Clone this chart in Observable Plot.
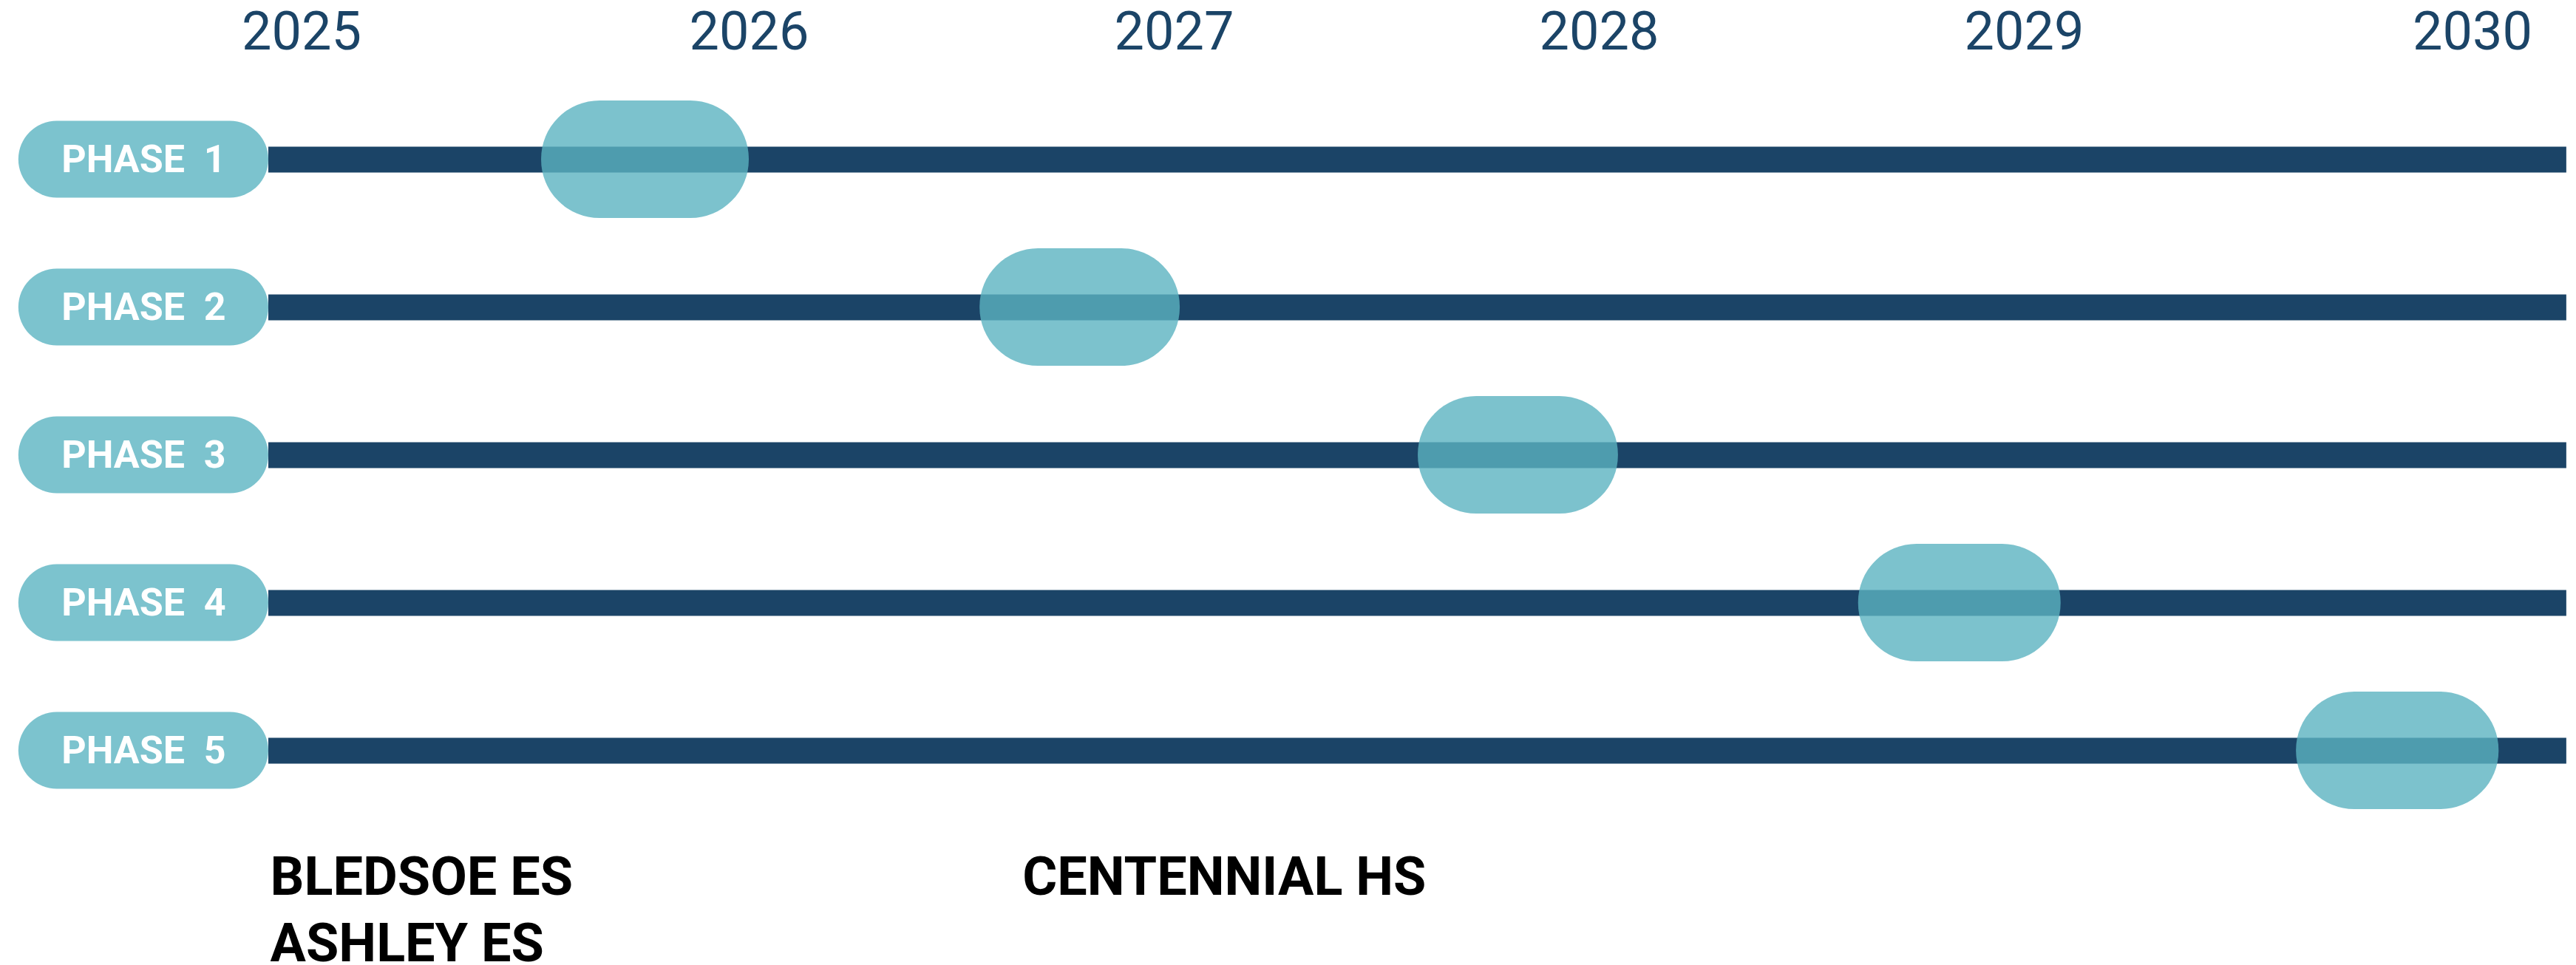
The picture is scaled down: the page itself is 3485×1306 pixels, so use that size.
<!DOCTYPE html>
<html>
<head>
<meta charset="utf-8">
<script src="https://cdn.jsdelivr.net/npm/d3@7"></script>
<script src="https://cdn.jsdelivr.net/npm/@observablehq/plot@0.6"></script>
<style>
html, body { margin: 0; padding: 0; background: #ffffff; }
#chart svg { display: block; }
</style>
</head>
<body>
<div id="chart"></div>
<script>
// ---- data ----
const years = [2025, 2026, 2027, 2028, 2029, 2030];
const phases = ["PHASE  1", "PHASE  2", "PHASE  3", "PHASE  4", "PHASE  5"];
const phaseRow = [1, 2, 3, 4, 5];
const milestoneStart = [2025.536, 2026.543, 2027.574, 2028.610, 2029.607];
const milestoneEnd = [2026.0, 2027.014, 2028.045, 2029.082, 2030.059];
const timelineStart = 2024.9265;
const timelineEnd = 2030.21;
const labelStart = 2024.368;
const schools = ["BLEDSOE ES", "ASHLEY ES", "CENTENNIAL HS"];
const schoolYear = [2024.93, 2024.93, 2026.643];
const schoolLine = [0, 1, 0];

// ---- styling constants ----
const NAVY = "#1b4467";
const TEAL = "#7cc3ce";
const idx = phases.map((_, i) => i);
const schoolIdx = schools.map((_, i) => i);

const chart = Plot.plot({
  width: 3485,
  height: 1306,
  margin: 0,
  style: { background: "#ffffff", fontFamily: "Roboto, 'Noto Sans', sans-serif" },
  x: { type: "linear", domain: years, range: [407.5, 1013, 1588, 2163, 2738, 3344.5], axis: null },
  y: { type: "linear", domain: [0, 6], range: [15.5, 1215.5], axis: null },
  marks: [
    // timeline bars
    Plot.ruleY(phaseRow, {
      y: d => d,
      x1: () => timelineStart,
      x2: () => timelineEnd,
      stroke: NAVY,
      strokeWidth: 35
    }),
    // phase label pills
    Plot.rect(idx, {
      x1: () => labelStart,
      x2: () => timelineStart,
      y1: i => phaseRow[i] - 0.26,
      y2: i => phaseRow[i] + 0.26,
      rx: 52,
      fill: TEAL
    }),
    Plot.text(idx, {
      x: () => (labelStart + timelineStart) / 2,
      y: i => phaseRow[i],
      text: i => phases[i],
      fill: "#ffffff",
      fontSize: 52,
      fontWeight: 700,
      textAnchor: "middle"
    }),
    // milestone pills
    Plot.rect(idx, {
      x1: i => milestoneStart[i],
      x2: i => milestoneEnd[i],
      y1: i => phaseRow[i] - 0.3975,
      y2: i => phaseRow[i] + 0.3975,
      rx: 79,
      fill: "#5bb3c1",
      fillOpacity: 0.8
    }),
    // year labels
    Plot.text(years, {
      x: d => d,
      y: () => 0.1375,
      text: d => String(d),
      fill: NAVY,
      fontSize: 72,
      fontWeight: 400,
      textAnchor: "middle"
    }),
    // school names
    Plot.text(schoolIdx, {
      x: i => schoolYear[i],
      y: i => 5.8575 + schoolLine[i] * 0.45,
      text: i => schools[i],
      fill: "#000000",
      fontSize: 72,
      fontWeight: 700,
      textAnchor: "start"
    })
  ]
});
document.getElementById("chart").appendChild(chart);
</script>
</body>
</html>
